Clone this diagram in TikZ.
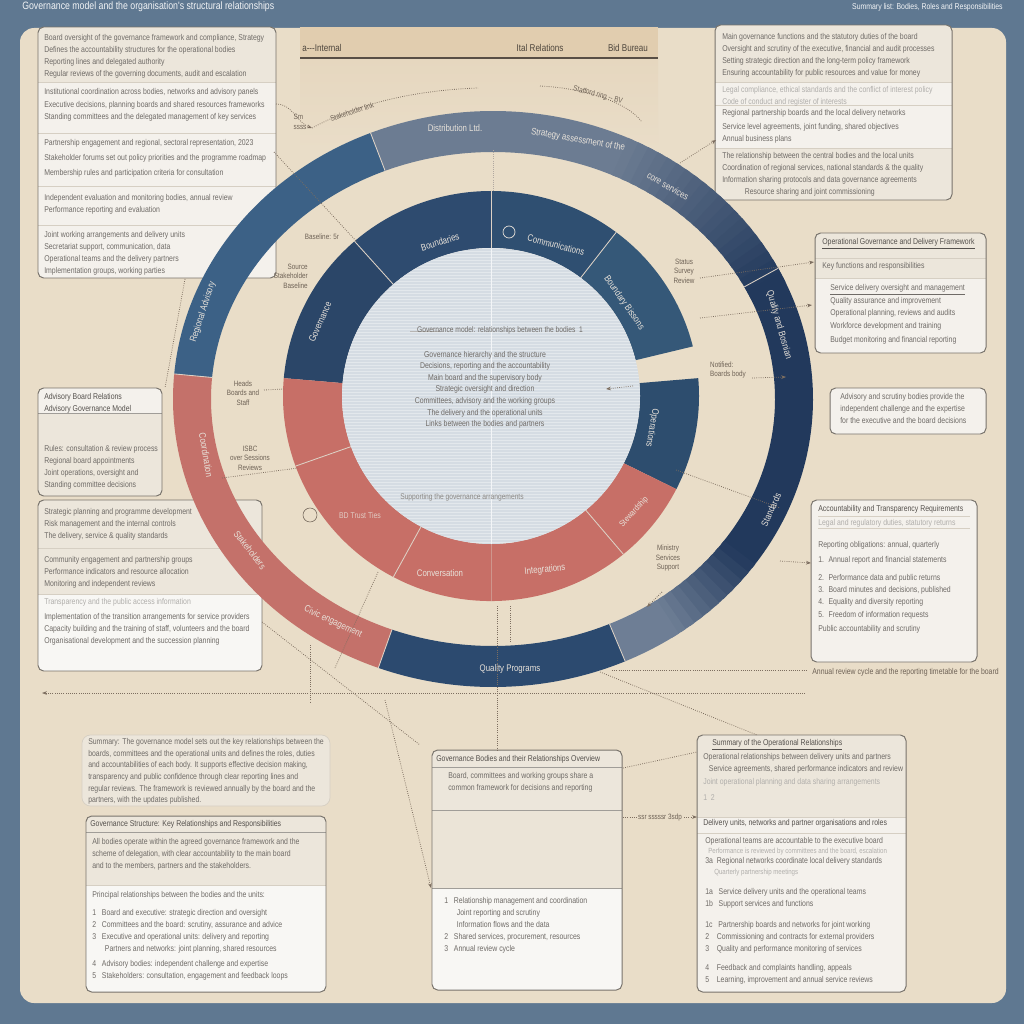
\documentclass[tikz,border=0pt]{standalone}
\usepackage{fontspec}
\setmainfont{Liberation Sans}
\newfontfamily\cond[FakeStretch=0.82]{Liberation Sans}
\usetikzlibrary{arrows.meta,calc}
\definecolor{frame}{HTML}{5F7891}
\definecolor{paper}{HTML}{E9DDC8}
\definecolor{tpanel}{HTML}{E1CDAF}
\definecolor{tpanel2}{HTML}{E6D7BF}
\definecolor{secA}{HTML}{ECE6DB}
\definecolor{secB}{HTML}{F4F1EC}
\definecolor{secW}{HTML}{F8F7F4}
\definecolor{boxline}{HTML}{78736C}
\definecolor{sepc}{HTML}{D6CFC3}
\definecolor{txt}{HTML}{6F6B67}
\definecolor{txtdark}{HTML}{55514D}
\definecolor{anntxt}{HTML}{6E6256}
\definecolor{navy}{HTML}{22395C}
\definecolor{midblue}{HTML}{2C4A6F}
\definecolor{steel}{HTML}{3C6186}
\definecolor{slate}{HTML}{6C7C92}
\definecolor{graybl}{HTML}{6E7E95}
\definecolor{redr}{HTML}{C4716A}
\definecolor{redm}{HTML}{C76F67}
\definecolor{mb1}{HTML}{2B4668}
\definecolor{mb2}{HTML}{2E4B6F}
\definecolor{mb3}{HTML}{2F4F71}
\definecolor{mb4}{HTML}{355878}
\definecolor{mb5}{HTML}{2D4D6E}
\definecolor{core}{HTML}{D5DCE3}
\definecolor{ringtxt}{HTML}{E8E2DA}
\definecolor{conn}{HTML}{7D6E60}
\definecolor{divc}{HTML}{DDD2C6}
\newcommand{\annsec}[8]{\fill[#1] ($(#2)+(#7:#3 and #4)$) arc[start angle=#7,end angle=#8,x radius=#3,y radius=#4] -- ($(#2)+(#8:#5 and #6)$) arc[start angle=#8,end angle=#7,x radius=#5,y radius=#6] -- cycle;}
\tikzset{
 panel/.style={draw=boxline, line width=0.7pt, rounded corners=4pt},
 softpanel/.style={draw=sepc, line width=0.5pt, rounded corners=6pt},
 sepl/.style={draw=sepc, line width=0.5pt},
 tx/.style={font=\cond\fontsize{6}{8.6}\selectfont, text=txt, anchor=north west, inner sep=0pt, align=left},
 txh/.style={tx, text=txtdark},
 txf/.style={tx, text=txt!55!white},
 ann/.style={font=\cond\fontsize{5.5}{6.8}\selectfont, text=anntxt, inner sep=0pt, align=center},
 ringl/.style={font=\cond\fontsize{6.8}{8}\selectfont, text=ringtxt, inner sep=0pt},
 conn/.style={draw=conn, densely dotted, line width=0.55pt, -{Stealth[length=3.5pt,width=2.6pt]}},
 plainc/.style={draw=conn, densely dotted, line width=0.55pt},
 divl/.style={draw=divc, line width=0.6pt},
}
\begin{document}
\begin{tikzpicture}[x=0.25mm,y=-0.25mm]
\useasboundingbox (0,0) rectangle (1024,1024);
% background
\fill[frame] (0,0) rectangle (1024,1024);
\fill[paper, rounded corners=10pt] (20,28) rectangle (1006,1003);
\node[font=\cond\fontsize{7.6}{8}\selectfont, text=white!92!frame, anchor=west, inner sep=0pt] (title) at (22,7) {Governance model and the organisation's structural relationships};
\node[font=\cond\fontsize{6}{7}\selectfont, text=white!92!frame, anchor=east, inner sep=0pt] (subtitle) at (1003,7) {Summary list: Bodies, Roles and Responsibilities};

% top panel
\fill[tpanel] (300,27) rectangle (658,58);
\shade[top color=tpanel2, bottom color=paper] (300,58) rectangle (658,150);
\draw[draw=anntxt!80!black, line width=0.8pt] (300,58) -- (658,58);
\node[font=\cond\fontsize{7}{8}\selectfont, text=anntxt!70!black, anchor=west, inner sep=0pt] (tp1) at (302,48) {a---Internal};
\node[font=\cond\fontsize{7}{8}\selectfont, text=anntxt!70!black, inner sep=0pt] (tp2) at (540,48) {Ital Relations};
\node[font=\cond\fontsize{7}{8}\selectfont, text=anntxt!70!black, inner sep=0pt] (tp3) at (628,48) {Bid Bureau};
\coordinate (ta1) at (312,128); \coordinate (ta2) at (478,88);
\coordinate (ta3) at (540,86); \coordinate (ta4) at (642,122);
\draw[plainc] (ta1) .. controls (360,102) and (420,90) .. (ta2);
\draw[plainc] (ta3) .. controls (580,88) and (625,100) .. (ta4);
\node[ann, rotate=18] (ta5) at (352,112) {Stakeholder link};
\node[ann, rotate=-14] (ta6) at (598,95) {Stafford ring -- BV};
\node[ann, align=left] (ta7) at (300,122) {Sm\\ssss};

% ===== left top box =====
\begin{scope}
\clip[rounded corners=4pt] (38,27) rectangle (276,278);
\fill[secA] (38,27) rectangle (276,82);
\fill[secB] (38,82) rectangle (276,278);
\draw[sepl] (38,82) -- (276,82); \draw[sepl] (38,133) -- (276,133);
\draw[sepl] (38,186) -- (276,186); \draw[sepl] (38,225) -- (276,225);
\end{scope}
\draw[panel] (38,27) rectangle (276,278);
\node[tx] (lt1) at (44,34) {Board oversight of the governance framework and compliance, Strategy\\Defines the accountability structures for the operational bodies\\Reporting lines and delegated authority\\Regular reviews of the governing documents, audit and escalation};
\node[tx] (lt2) at (44,88) {Institutional coordination across bodies, networks and advisory panels\\[1pt]Executive decisions, planning boards and shared resources frameworks\\Standing committees and the delegated management of key services};
\node[tx] (lt3) at (44,139) {Partnership engagement and regional, sectoral representation, 2023\\[2.5pt]Stakeholder forums set out policy priorities and the programme roadmap\\[1.5pt]Membership rules and participation criteria for consultation};
\node[tx] (lt4) at (44,194) {Independent evaluation and monitoring bodies, annual review\\Performance reporting and evaluation};
\node[tx] (lt5) at (44,231) {Joint working arrangements and delivery units\\Secretariat support, communication, data\\Operational teams and the delivery partners\\Implementation groups, working parties};

% ===== left mid box 1 =====
\begin{scope}
\clip[rounded corners=4pt] (38,388) rectangle (162,496);
\fill[secB] (38,388) rectangle (162,413);
\fill[secA] (38,413) rectangle (162,496);
\draw[sepl, draw=boxline!70!white] (38,413) -- (162,413);
\end{scope}
\draw[panel] (38,388) rectangle (162,496);
\node[txh] (lm1a) at (44,393) {Advisory Board Relations\\Advisory Governance Model};
\node[tx] (lm1b) at (44,445) {Rules: consultation \& review process\\Regional board appointments\\Joint operations, oversight and\\Standing committee decisions};

% ===== left mid box 2 =====
\begin{scope}
\clip[rounded corners=4pt] (38,500) rectangle (262,671);
\fill[secA] (38,500) rectangle (262,594);
\fill[secW] (38,594) rectangle (262,671);
\draw[sepl] (38,548) -- (262,548); \draw[sepl] (38,594) -- (262,594);
\end{scope}
\draw[panel] (38,500) rectangle (262,671);
\node[tx] (lm2a) at (44,508) {Strategic planning and programme development\\Risk management and the internal controls\\The delivery, service \& quality standards};
\node[tx] (lm2b) at (44,556) {Community engagement and partnership groups\\Performance indicators and resource allocation\\Monitoring and independent reviews};
\node[txf] (lm2c) at (44,598) {Transparency and the public access information};
\node[tx] (lm2d) at (44,613) {Implementation of the transition arrangements for service providers\\Capacity building and the training of staff, volunteers and the board\\Organisational development and the succession planning};

% ===== right top box =====
\begin{scope}
\clip[rounded corners=4pt] (715,25) rectangle (952,200);
\fill[secA] (715,25) rectangle (952,82);
\fill[secB] (715,82) rectangle (952,148);
\fill[secA] (715,148) rectangle (952,200);
\draw[sepl] (715,82) -- (952,82); \draw[sepl] (715,105) -- (952,105); \draw[sepl] (715,148) -- (952,148);
\end{scope}
\draw[panel] (715,25) rectangle (952,200);
\node[tx] (rt1) at (722,33) {Main governance functions and the statutory duties of the board\\Oversight and scrutiny of the executive, financial and audit processes\\Setting strategic direction and the long-term policy framework\\Ensuring accountability for public resources and value for money};
\node[txf] (rt2) at (722,86) {Legal compliance, ethical standards and the conflict of interest policy\\Code of conduct and register of interests};
\node[tx] (rt3) at (722,109) {Regional partnership boards and the local delivery networks\\[1.5pt]Service level agreements, joint funding, shared objectives\\Annual business plans};
\node[tx] (rt4) at (722,152) {The relationship between the central bodies and the local units\\Coordination of regional services, national standards \& the quality\\Information sharing protocols and data governance agreements\\\hspace*{16pt}Resource sharing and joint commissioning};

% ===== right box 2 =====
\begin{scope}
\clip[rounded corners=4pt] (815,233) rectangle (986,353);
\fill[secA] (815,233) rectangle (986,278);
\fill[secB] (815,278) rectangle (986,353);
\draw[sepl] (815,258) -- (986,258); \draw[sepl] (815,278) -- (986,278);
\end{scope}
\draw[panel] (815,233) rectangle (986,353);
\node[txh] (r2a) at (822,238) {\underline{Operational Governance and Delivery Framework}};
\node[tx] (r2b) at (822,262) {Key functions and responsibilities};
\node[tx] (r2c) at (830,284) {\underline{Service delivery oversight and management}\\[1pt]Quality assurance and improvement\\Operational planning, reviews and audits\\Workforce development and training\\[2pt]Budget monitoring and financial reporting};

% ===== right box 3 =====
\fill[secB, rounded corners=4pt] (830,388) rectangle (986,434);
\draw[panel] (830,388) rectangle (986,434);
\node[tx] (r3a) at (840,393) {Advisory and scrutiny bodies provide the\\independent challenge and the expertise\\for the executive and the board decisions};

% ===== right box 4 =====
\fill[secB, rounded corners=4pt] (811,500) rectangle (977,662);
\draw[sepl] (818,516) -- (970,516); \draw[sepl] (818,528) -- (970,528);
\draw[panel] (811,500) rectangle (977,662);
\node[txh] (r4a) at (818,505) {Accountability and Transparency Requirements};
\node[txf] (r4b) at (818,519) {Legal and regulatory duties, statutory returns};
\node[tx] (r4c) at (818,541) {Reporting obligations: annual, quarterly\\[2pt]1. \ Annual report and financial statements\\[4pt]2. \ Performance data and public returns\\3. \ Board minutes and decisions, published\\4. \ Equality and diversity reporting\\[1pt]5. \ Freedom of information requests\\[1pt]Public accountability and scrutiny};

% ===== bottom-left box 1 =====
\fill[secA, rounded corners=6pt] (82,735) rectangle (330,806);
\draw[softpanel] (82,735) rectangle (330,806);
\node[tx, font=\cond\fontsize{6}{8.3}\selectfont] (bl1) at (88,738) {Summary: The governance model sets out the key relationships between the\\boards, committees and the operational units and defines the roles, duties\\and accountabilities of each body. It supports effective decision making,\\transparency and public confidence through clear reporting lines and\\regular reviews. The framework is reviewed annually by the board and the\\partners, with the updates published.};

% ===== bottom-left box 2 =====
\begin{scope}
\clip[rounded corners=4pt] (86,816) rectangle (326,992);
\fill[secA] (86,816) rectangle (326,885);
\fill[secW] (86,885) rectangle (326,992);
\draw[sepl, draw=boxline!70!white] (86,832) -- (326,832); \draw[sepl] (86,885) -- (326,885);
\end{scope}
\draw[panel] (86,816) rectangle (326,992);
\node[txh] (bl2a) at (90,820) {Governance Structure: Key Relationships and Responsibilities};
\node[tx] (bl2b) at (92,838) {All bodies operate within the agreed governance framework and the\\scheme of delegation, with clear accountability to the main board\\and to the members, partners and the stakeholders.};
\node[tx] (bl2c) at (92,891) {Principal relationships between the bodies and the units:};
\node[tx] (bl2d) at (92,909) {1 \ \ Board and executive: strategic direction and oversight\\2 \ \ Committees and the board: scrutiny, assurance and advice\\3 \ \ Executive and operational units: delivery and reporting\\\hspace*{9pt}Partners and networks: joint planning, shared resources\\[2pt]4 \ \ Advisory bodies: independent challenge and expertise\\5 \ \ Stakeholders: consultation, engagement and feedback loops};

% ===== bottom-center box =====
\begin{scope}
\clip[rounded corners=4pt] (432,750) rectangle (622,990);
\fill[secA] (432,750) rectangle (622,810);
\fill[secA!85!tpanel2] (432,810) rectangle (622,888);
\fill[secW] (432,888) rectangle (622,990);
\draw[sepl, draw=boxline!70!white] (432,767) -- (622,767);
\draw[sepl, draw=boxline!70!white] (432,810) -- (622,810);
\draw[sepl, draw=boxline!70!white] (432,888) -- (622,888);
\end{scope}
\draw[panel] (432,750) rectangle (622,990);
\node[txh] (bca) at (436,755) {Governance Bodies and their Relationships Overview};
\node[tx] (bcb) at (448,772) {Board, committees and working groups share a\\common framework for decisions and reporting};
\node[tx] (bcc) at (444,897) {1 \ \ Relationship management and coordination\\\hspace*{9pt}Joint reporting and scrutiny\\\hspace*{9pt}Information flows and the data\\2 \ \ Shared services, procurement, resources\\3 \ \ Annual review cycle};

% ===== bottom-right box =====
\begin{scope}
\clip[rounded corners=4pt] (697,735) rectangle (906,992);
\fill[secA] (697,735) rectangle (906,817);
\fill[secB] (697,817) rectangle (906,992);
\draw[sepl] (697,817) -- (906,817); \draw[sepl] (697,833) -- (906,833);
\end{scope}
\draw[panel] (697,735) rectangle (906,992);
\node[txh] (bra) at (712,739) {\underline{Summary of the Operational Relationships}};
\node[tx] (brb) at (703,753) {Operational relationships between delivery units and partners\\\hspace*{4pt}Service agreements, shared performance indicators and review};
\node[txf] (brc) at (703,778) {Joint operational planning and data sharing arrangements\\[3pt]1 \ 2};
\node[txh] (brd) at (703,819) {Delivery units, networks and partner organisations and roles};
\node[tx] (bre) at (705,837) {Operational teams are accountable to the executive board};
\node[txf, font=\cond\fontsize{5.3}{6}\selectfont] (brf) at (708,848) {Performance is reviewed by committees and the board, escalation};
\node[tx] (brg) at (705,857) {3a \ Regional networks coordinate local delivery standards};
\node[txf, font=\cond\fontsize{5.3}{6}\selectfont] (brh) at (714,869) {Quarterly partnership meetings};
\node[tx] (bri) at (705,888) {1a \ \ Service delivery units and the operational teams\\1b \ \ Support services and functions\\[6pt]1c \ \ Partnership boards and networks for joint working\\2 \ \ \ Commissioning and contracts for external providers\\3 \ \ \ Quality and performance monitoring of services\\[5pt]4 \ \ \ Feedback and complaints handling, appeals\\5 \ \ \ Learning, improvement and annual service reviews};

% ===== rings =====
\coordinate (O) at (493,399);
\coordinate (M) at (491,396);
% outer ring
\annsec{steel}{O}{320}{288}{282}{247}{185}{247.5}
\annsec{slate}{O}{320}{288}{282}{247}{247.5}{296}
\foreach \k in {0,...,19}{
  \pgfmathsetmacro\aa{295+2*\k}\pgfmathsetmacro\bb{298+2*\k}\pgfmathtruncatemacro\pp{100-5*(\k+0.5)}
  \annsec{slate!\pp!navy}{O}{320}{288}{282}{247}{\aa}{\bb}
}
\annsec{navy}{O}{320}{288}{282}{247}{334}{396}
\foreach \k in {0,...,9}{
  \pgfmathsetmacro\aa{395+2*\k}\pgfmathsetmacro\bb{398+2*\k}\pgfmathtruncatemacro\pp{100-10*(\k+0.5)}
  \annsec{navy!\pp!graybl}{O}{320}{288}{282}{247}{\aa}{\bb}
}
\annsec{graybl}{O}{320}{288}{282}{247}{414.5}{425.6}
\annsec{midblue}{O}{320}{288}{282}{247}{425.6}{471}
\annsec{redr}{O}{320}{288}{282}{247}{471}{545}
\foreach \a in {185,247.5,425.6,471,333}
  \draw[divl] ($(O)+(\a:282 and 247)$) -- ($(O)+(\a:320 and 288)$);
% middle ring
\annsec{mb1}{M}{208}{205}{149}{148}{185}{229}
\annsec{mb2}{M}{208}{205}{149}{148}{229}{270}
\annsec{mb3}{M}{208}{205}{149}{148}{270}{307}
\annsec{mb4}{M}{208}{205}{149}{148}{307}{346}
\annsec{mb5}{M}{208}{205}{149}{148}{355}{387}
\annsec{redm}{M}{208}{205}{149}{148}{387}{545}
\foreach \a in {229,270,307,410.5,478,520}
  \draw[divl] ($(M)+(\a:149 and 148)$) -- ($(M)+(\a:208 and 205)$);
\draw[divl, opacity=0.4] ($(M)+(450:149 and 148)$) -- ($(M)+(450:208 and 205)$);
% core
\fill[core] (M) ellipse [x radius=149, y radius=148];
\begin{scope}
\clip (M) ellipse [x radius=149, y radius=148];
\foreach \yy in {248,251,...,545} \draw[white, opacity=0.35, line width=0.3pt] (340,\yy) -- (642,\yy);
\end{scope}
\draw[white!70!core, line width=0.4pt] (491,249) -- (491,544);
\draw[conn!60!white, densely dotted, line width=0.5pt] (493,150) -- (493,192);
% core text
\draw[txt!50!white, line width=0.4pt] (410,331) -- (440,331);
\node[font=\cond\fontsize{5.8}{7}\selectfont, text=txt, inner sep=0pt] (c0) at (500,330) {Governance model: relationships between the bodies \ 1};
\node[font=\cond\fontsize{6}{8.2}\selectfont, text=txt, inner sep=0pt, align=center, anchor=north] (c1) at (485,351) {Governance hierarchy and the structure\\Decisions, reporting and the accountability\\Main board and the supervisory body\\Strategic oversight and direction\\Committees, advisory and the working groups\\The delivery and the operational units\\Links between the bodies and partners};
\node[font=\cond\fontsize{5.8}{7}\selectfont, text=txt!80!white, inner sep=0pt] (c2) at (462,497) {Supporting the governance arrangements};

% ring labels
\node[ringl] (r1) at (455,128) {Distribution Ltd.};
\node[ringl, rotate=-10] (r2) at (578,140) {Strategy assessment of the};
\node[ringl, rotate=-30] (r3) at (668,186) {core services};
\node[ringl, rotate=-74] (r4) at (779,325) {Quality and Bosnian};
\node[ringl, rotate=66] (r5) at (771,510) {Standards};
\node[ringl] (r6) at (510,669) {Quality Programs};
\node[ringl, rotate=-80] (r7) at (206,455) {Coordination};
\node[ringl, rotate=-52] (r8) at (250,550) {Stakeholders};
\node[ringl, rotate=-25] (r9) at (333,622) {Civic engagement};
\node[ringl, rotate=72] (r10) at (203,312) {Regional Advisory};
\node[ringl, rotate=17] (m1) at (440,242) {Boundaries};
\draw[ringtxt, line width=0.5pt] (509,232) circle [radius=6];
\node[ringl, rotate=-15] (m2) at (556,245) {Communications};
\node[ringl, rotate=-55] (m3) at (624,303) {Boundary Bissons};
\node[ringl, rotate=66] (m4) at (320,322) {Governance};
\node[ringl, rotate=-100] (m5) at (652,428) {Operations};
\node[ringl] (m6) at (440,573) {Conversation};
\node[ringl, rotate=6] (m7) at (545,570) {Integrations};
\node[ringl, rotate=48, font=\cond\fontsize{6}{7}\selectfont] (m8) at (634,512) {Stewardship};
\node[ringl, text=ringtxt!80!redm, font=\cond\fontsize{6}{7}\selectfont] (m9) at (360,515) {BD Trust Ties};
\draw[anntxt, line width=0.4pt] (310,515) circle [radius=7];

% annotations
\node[ann] (a1) at (322,237) {Baseline: 5r};
\node[ann, align=right, anchor=east] (a2) at (308,276) {Source\\Stakeholder\\Baseline};
\node[ann] (a3) at (243,393) {Heads\\Boards and\\Staff};
\node[ann] (a4) at (250,458) {ISBC\\over Sessions\\Reviews};
\node[ann] (a5) at (684,271) {Status\\Survey\\Review};
\node[ann, align=left] (a6) at (728,370) {Notified:\\Boards body};
\node[ann] (a7) at (668,558) {Ministry\\Services\\Support};

% ===== connectors =====
\coordinate (k1a) at (276,104); \coordinate (k2a) at (274,152); \coordinate (k2b) at (357,242);
\coordinate (k3a) at (185,279); \coordinate (k3b) at (165,388);
\coordinate (k4a) at (264,390); \coordinate (k4b) at (284,389);
\coordinate (k5a) at (222,478); \coordinate (k5b) at (298,468);
\coordinate (k6a) at (262,622); \coordinate (k6b) at (420,745);
\coordinate (k7a) at (385,700); \coordinate (k7b) at (431,888);
\coordinate (k8a) at (310,645); \coordinate (k8b) at (310,702);
\coordinate (k9a) at (378,572); \coordinate (k9b) at (335,668);
\coordinate (k10a) at (497,606); \coordinate (k10b) at (497,750);
\coordinate (k10c) at (510,606); \coordinate (k10d) at (510,642);
\coordinate (k11a) at (600,672); \coordinate (k11b) at (757,735);
\coordinate (k12a) at (623,768); \coordinate (k12b) at (697,752);
\coordinate (k13a) at (623,817); \coordinate (k13b) at (697,817);
\coordinate (k14a) at (680,163); \coordinate (k14b) at (716,140);
\coordinate (k15a) at (700,278); \coordinate (k15b) at (814,262);
\coordinate (k16a) at (700,318); \coordinate (k16b) at (812,305);
\coordinate (k17a) at (752,378); \coordinate (k17b) at (786,377);
\coordinate (k18a) at (676,470); \coordinate (k18b) at (780,508);
\coordinate (k19a) at (780,561); \coordinate (k19b) at (811,563);
\coordinate (k20a) at (662,592); \coordinate (k20b) at (647,607);
\coordinate (k21a) at (805,693); \coordinate (k21b) at (42,693);
\coordinate (k22a) at (612,670); \coordinate (k22b) at (808,670);
\coordinate (k23a) at (633,386); \coordinate (k23b) at (606,389);
\draw[conn] (k1a) to[out=0,in=160] (ta1);
\draw[plainc] (k2a) -- (k2b);
\draw[plainc] (k3a) -- (k3b);
\draw[plainc] (k4a) -- (k4b);
\draw[plainc] (k5a) -- (k5b);
\draw[plainc] (k6a) -- (k6b);
\draw[conn] (k7a) -- (k7b);
\draw[plainc] (k8a) -- (k8b);
\draw[plainc] (k9a) -- (k9b);
\draw[plainc] (k10a) -- (k10b);
\draw[plainc] (k10c) -- (k10d);
\draw[plainc] (k11a) -- (k11b);
\draw[plainc] (k12a) -- (k12b);
\draw[conn] (k13a) -- node[ann, fill=paper, inner sep=1pt] (k13t) {ssr sssssr 3sdp} (k13b);
\draw[conn] (k14a) -- (k14b);
\draw[conn] (k15a) -- (k15b);
\draw[conn] (k16a) -- (k16b);
\draw[conn] (k17a) -- (k17b);
\draw[plainc] (k18a) -- (k18b);
\draw[conn] (k19a) -- (k19b);
\draw[conn] (k20a) -- (k20b);
\draw[conn] (k21a) -- (k21b);
\draw[plainc] (k22a) -- (k22b);
\draw[conn] (k23a) -- (k23b);
\node[ann, anchor=west, font=\cond\fontsize{6}{7}\selectfont] (bl) at (812,672) {Annual review cycle and the reporting timetable for the board};
\end{tikzpicture}
\end{document}
